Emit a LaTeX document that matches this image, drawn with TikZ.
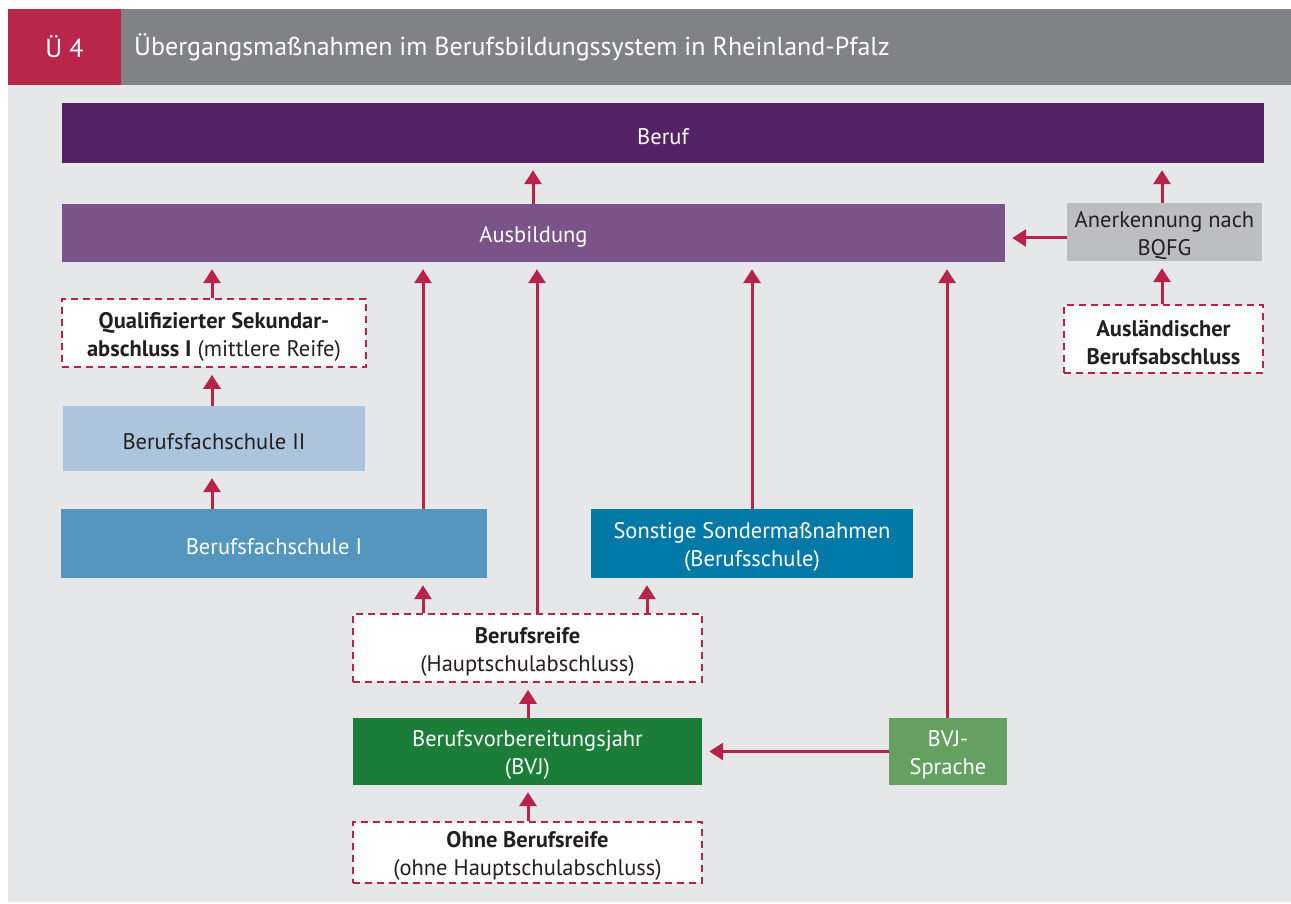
\documentclass[tikz,border=0pt]{standalone}
\usepackage{fontspec}
\setmainfont{PT Sans}
\usetikzlibrary{arrows.meta}
\definecolor{hdrred}{HTML}{B82649}
\definecolor{hdrgray}{HTML}{818285}
\definecolor{panel}{HTML}{E6E7E9}
\definecolor{arrowred}{HTML}{B8234A}
\definecolor{berufc}{HTML}{552263}
\definecolor{ausbc}{HTML}{7A5489}
\definecolor{anerkc}{HTML}{BDBEC1}
\definecolor{bfszwei}{HTML}{ADC5DC}
\definecolor{bfseins}{HTML}{5596BE}
\definecolor{sonstc}{HTML}{0079A6}
\definecolor{bvjc}{HTML}{1B7D38}
\definecolor{sprachc}{HTML}{63A062}
\definecolor{txtdark}{HTML}{231F20}
\tikzset{
  lbl/.style={inner sep=0pt, align=center, yshift=-3.5pt, font=\fontsize{22.5}{28}\selectfont},
  box/.style={rectangle, inner sep=0pt},
  solidbox/.style={box, label={[lbl, text=white]center:{#1}}},
  darkbox/.style={box, label={[lbl, text=txtdark]center:{#1}}},
  dashbox/.style={box, fill=white, draw=arrowred, line width=1.6pt, dash pattern=on 7pt off 5pt,
    label={[lbl, text=txtdark]center:{#1}}},
  arr/.style={draw=arrowred, line width=3pt, -{Triangle[width=17pt,length=14pt]}, shorten >=7pt},
  hdrtext/.style={text=white, font=\fontsize{26}{30}\selectfont},
}
\begin{document}
\begin{tikzpicture}[x=1pt,y=-1pt]
\useasboundingbox (0,0) rectangle (1291,904);
% panel and header bar
\fill[panel] (8,85) rectangle (1291,902);
\fill[hdrred] (8,9) rectangle (121,85);
\fill[hdrgray] (121,9) rectangle (1291,85);
\node[hdrtext] (num) at (64.5,47) {Ü 4};
\node[hdrtext, anchor=west, inner sep=0pt] (title) at (134,47) {Übergangsmaßnahmen im Berufsbildungssystem in Rheinland-Pfalz};

% boxes
\node[solidbox={Beruf}, fill=berufc, minimum width=1202pt, minimum height=60pt] (beruf) at (663,133) {};
\node[solidbox={Ausbildung}, fill=ausbc, minimum width=943pt, minimum height=58pt] (ausb) at (533.5,233) {};
\node[darkbox={Anerkennung nach\\BQFG}, fill=anerkc, minimum width=195pt, minimum height=58pt] (anerk) at (1164.5,232) {};
\node[dashbox={\bfseries Ausländischer\\\bfseries Berufsabschluss}, minimum width=199pt, minimum height=68pt] (ausl) at (1163.5,339) {};
\node[dashbox={\textbf{Qualifizierter Sekundar-}\\\textbf{abschluss I} (mittlere Reife)}, minimum width=304pt, minimum height=68pt] (qual) at (214,333) {};
\node[darkbox={Berufsfachschule II}, fill=bfszwei, minimum width=302pt, minimum height=65pt] (bfs2) at (214,438.5) {};
\node[solidbox={Berufsfachschule I}, fill=bfseins, minimum width=426pt, minimum height=69pt] (bfs1) at (274,543.5) {};
\node[solidbox={Sonstige Sondermaßnahmen\\(Berufsschule)}, fill=sonstc, minimum width=322pt, minimum height=69pt] (sonst) at (752,543.5) {};
\node[dashbox={\textbf{Berufsreife}\\(Hauptschulabschluss)}, minimum width=349pt, minimum height=68pt] (reife) at (527.5,648) {};
\node[solidbox={Berufsvorbereitungsjahr\\(BVJ)}, fill=bvjc, minimum width=349pt, minimum height=67pt] (bvj) at (527.5,751.5) {};
\node[solidbox={BVJ-\\Sprache}, fill=sprachc, minimum width=118pt, minimum height=67pt] (sprache) at (948,751.5) {};
\node[dashbox={\textbf{Ohne Berufsreife}\\(ohne Hauptschulabschluss)}, minimum width=349pt, minimum height=61pt] (ohne) at (527.5,852.5) {};

% vertical lanes
\coordinate (l1) at (212,0);
\coordinate (l2) at (423,0);
\coordinate (l3) at (537,0);
\coordinate (l4) at (647,0);
\coordinate (l5) at (752,0);
\coordinate (l6) at (947,0);
\coordinate (l7) at (533,0);
\coordinate (l8) at (1162,0);
\coordinate (l9) at (528,0);

% connectors
\draw[arr] (l7 |- ausb.north) -- (l7 |- beruf.south);
\draw[arr] (l8 |- anerk.north) -- (l8 |- beruf.south);
\draw[arr] (anerk.west |- 0,238) -- (ausb.east |- 0,238);
\draw[arr] (l8 |- ausl.north) -- (l8 |- anerk.south);
\draw[arr] (l1 |- qual.north) -- (l1 |- ausb.south);
\draw[arr] (l1 |- bfs2.north) -- (l1 |- qual.south);
\draw[arr] (l1 |- bfs1.north) -- (l1 |- bfs2.south);
\draw[arr] (l2 |- bfs1.north) -- (l2 |- ausb.south);
\draw[arr] (l2 |- reife.north) -- (l2 |- bfs1.south);
\draw[arr] (l3 |- reife.north) -- (l3 |- ausb.south);
\draw[arr] (l4 |- reife.north) -- (l4 |- sonst.south);
\draw[arr] (l5 |- sonst.north) -- (l5 |- ausb.south);
\draw[arr] (l9 |- bvj.north) -- (l9 |- reife.south);
\draw[arr] (l9 |- ohne.north) -- (l9 |- bvj.south);
\draw[arr] (sprache.west) -- (bvj.east);
\draw[arr] (l6 |- sprache.north) -- (l6 |- ausb.south);
\end{tikzpicture}
\end{document}
